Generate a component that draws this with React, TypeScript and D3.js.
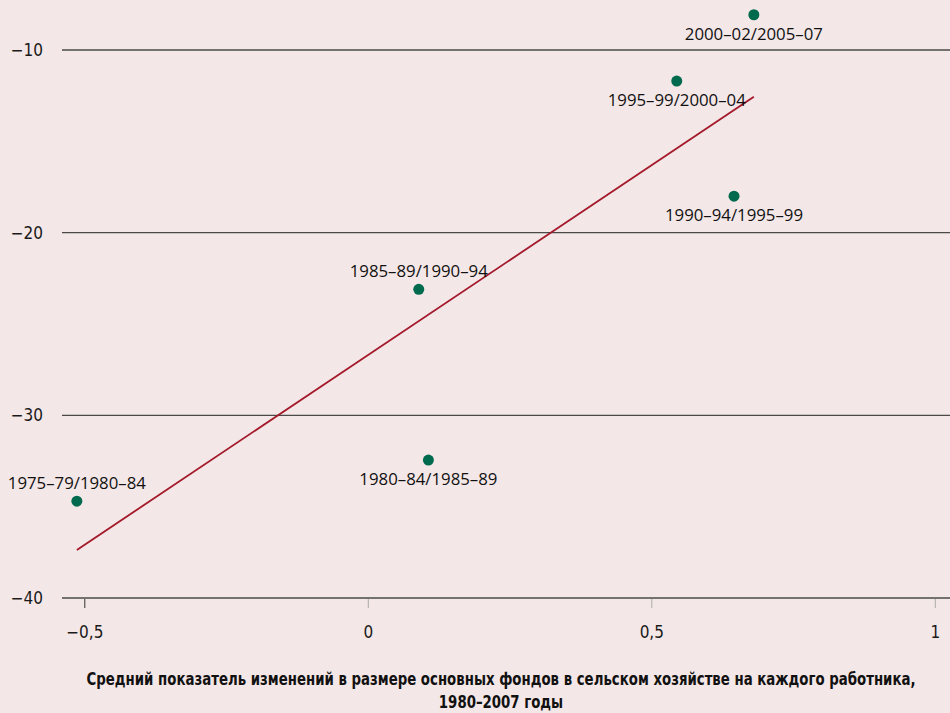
import React from 'react';
import * as d3 from 'd3';

// period labels, in drawing order
const periods = [
    '1975–79/1980–84',
    '1980–84/1985–89',
    '1985–89/1990–94',
    '1990–94/1995–99',
    '1995–99/2000–04',
    '2000–02/2005–07',
];
// avg change in fixed capital per worker (x)
const capitalChange = [-0.514, 0.106, 0.089, 0.645, 0.544, 0.68];
// y values
const outputChange = [-34.7, -32.45, -23.1, -18.0, -11.7, -8.07];
// where each label sits relative to its dot
const labelSide = ['above', 'below', 'above', 'below', 'below', 'below'];

// fitted line endpoints
const trendX = [-0.514, 0.68];
const trendY = [-37.37, -12.56];

const yTicks = [-10, -20, -30, -40];
const xTicks = [-0.5, 0, 0.5, 1];

const titleLines = [
    'Средний показатель изменений в размере основных фондов в сельском хозяйстве на каждого работника,',
    '1980–2007 годы',
];

const W = 950;
const H = 713;

export default function App() {
    const x = d3.scaleLinear().domain([0, 1]).range([368.3, 935.3]);
    const y = d3.scaleLinear().domain([-10, -40]).range([50, 598]);

    const fmt = (v: number) => {
        const s = String(Math.abs(v)).replace('.', ',');
        return v < 0 ? '−' + s : s;
    };

    const trend = d3
        .line<number>()
        .x((d) => x(d))
        .y((_, i) => y(trendY[i]));

    const tickFont = '"Liberation Sans Narrow", "DejaVu Sans Condensed", sans-serif';

    return (
        <svg
            width={W}
            height={H}
            style={{ position: 'absolute', left: 0, top: 0, display: 'block' }}
        >
            <rect width={W} height={H} fill="#f4e7e7" />

            {/* horizontal grid + y labels */}
            {yTicks.map((t) => (
                <g key={t}>
                    <line x1={62} x2={W} y1={y(t)} y2={y(t)} stroke="#4a4a4a" strokeWidth={1.3} />
                    <text
                        x={43}
                        y={y(t)}
                        dy="0.35em"
                        textAnchor="end"
                        fontFamily={tickFont}
                        fontSize={17}
                        fill="#1a1a1a"
                    >
                        {fmt(t)}
                    </text>
                </g>
            ))}

            {/* x ticks */}
            {xTicks.map((t) => (
                <g key={t} transform={`translate(${x(t)},0)`}>
                    <line y1={599} y2={608} stroke={t === -0.5 ? '#333' : '#aaa'} strokeWidth={1} />
                    <text
                        y={638}
                        textAnchor="middle"
                        fontFamily={tickFont}
                        fontSize={17}
                        fill="#1a1a1a"
                    >
                        {fmt(t)}
                    </text>
                </g>
            ))}

            {/* trend line */}
            <path d={trend(trendX) ?? ''} fill="none" stroke="#a3182a" strokeWidth={1.8} />

            {/* points */}
            {periods.map((p, i) => {
                const cx = x(capitalChange[i]);
                const cy = y(outputChange[i]);
                const above = labelSide[i] === 'above';
                return (
                    <g key={p}>
                        <circle cx={cx} cy={cy} r={5.5} fill="#006a4e" />
                        <text
                            x={cx}
                            y={above ? cy - 12 : cy + 25}
                            textAnchor="middle"
                            fontFamily='"Open Sans", sans-serif'
                            fontSize={16.8}
                            fill="#111"
                        >
                            {p}
                        </text>
                    </g>
                );
            })}

            {/* axis title (narrow bold, squeezed to look condensed) */}
            <g transform="translate(501,0) scale(0.823,1)">
                {titleLines.map((l, i) => (
                    <text
                        key={i}
                        x={0}
                        y={685 + i * 23}
                        textAnchor="middle"
                        fontFamily={tickFont}
                        fontWeight="bold"
                        fontSize={18}
                        fill="#111"
                    >
                        {l}
                    </text>
                ))}
            </g>
        </svg>
    );
}
